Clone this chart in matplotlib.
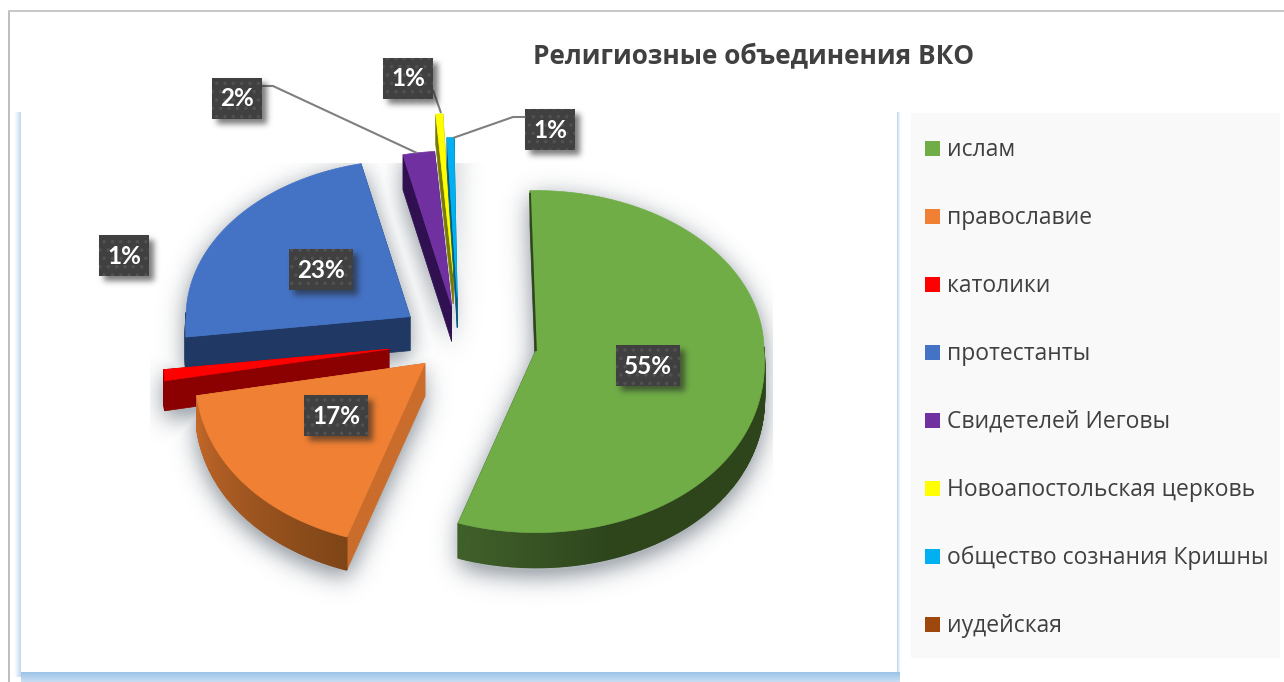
import numpy as np
import matplotlib.pyplot as plt
from matplotlib.colors import to_rgb
from matplotlib.patches import Polygon, Rectangle
from matplotlib.path import Path

plt.switch_backend('agg')
plt.rcParams["hatch.linewidth"] = 1.3

WIDTH, HEIGHT = 1284, 682

TITLE = "Религиозные объединения ВКО"
CATEGORIES = ["ислам", "православие", "католики", "протестанты", "Свидетелей Иеговы",
              "Новоапостольская церковь", "общество сознания Кришны", "иудейская"]
VALUES = [55.6, 17.0, 1.0, 23.3, 2.3, 0.5, 0.5, 0.0]
LABELS = ["55%", "17%", "1%", "23%", "2%", "1%", "1%", ""]

COLORS = ["#70AD47", "#F08033", "#FF0000", "#4472C4", "#7030A0", "#FFFF00", "#00B0F0", "#9E480E"]
SIDE_COLORS = ["#2E451C", "#C96C2C", "#8B0000", "#203864", "#301050", "#7A7A00", "#005A7C", "#5A2808"]
ARC_GRADIENT = {0: ("#2E451C", "#40602A"), 1: ("#7E4517", "#C4682A")}

# explosion, radius and height of each slice in pixels, and top left of each label box
EXPLODE = [77, 43, 70, 60, 50, 96, 62, 0]
RADII = [228, 229, 225, 224, 222, 229, 229, 229]
DEPTHS = [35, 33, 30, 34, 35, 30, 30, 30]
LABEL_BOX = [(616, 345), (304, 395), (99, 235), (289, 249), (212, 78), (383, 58), (525, 109), None]
LEADERS = {
    4: [(262, 86), (273, 86), (417, 153)],
    5: [(433, 90), (441, 113)],
    6: [(525, 117), (513, 117), (453, 138)],
}

CENTER = (459, 341)
START_ANGLE = -1.5
DRAW_ORDER = [4, 5, 6, 3, 2, 1, 0]

TEXT_COLOR = "#404040"
FONT = "Open Sans"


def project(angle_deg, dist):
    # clockwise from the top, front of the pie is a bit bigger than the back
    a = np.radians(angle_deg)
    sin_a, cos_a = np.sin(a), np.cos(a)
    front = np.maximum(0, -cos_a)
    x_scale = 1 + 0.07 * front
    y_scale = np.where(cos_a < 0, 0.80, 0.70)
    return np.column_stack([dist * sin_a * x_scale, -dist * cos_a * y_scale])


def slice_shapes(i, a0, a1):
    mid = (a0 + a1) / 2
    apex = np.array(CENTER) + project(mid, EXPLODE[i])[0]
    angles = np.linspace(a0, a1, max(3, int((a1 - a0) * 2)))
    arc = apex + project(angles, RADII[i])
    return apex, angles, arc


def blur(mask, sigma):
    ky = np.exp(-(np.fft.fftfreq(mask.shape[0]) * 2 * np.pi * sigma) ** 2 / 2)
    kx = np.exp(-(np.fft.fftfreq(mask.shape[1]) * 2 * np.pi * sigma) ** 2 / 2)
    return np.real(np.fft.ifft2(np.fft.fft2(mask) * np.outer(ky, kx)))


def poly_mask(pts, grid):
    return Path(pts).contains_points(grid).reshape(HEIGHT, WIDTH)


def show_shadow(ax, mask, color, strength, zorder):
    rgba = np.zeros((HEIGHT, WIDTH, 4))
    rgba[..., :3] = to_rgb(color)
    rgba[..., 3] = np.clip(mask, 0, 1) * strength
    ax.imshow(rgba, extent=(0, WIDTH, HEIGHT, 0), zorder=zorder, aspect="auto", interpolation="bilinear")


def lerp(c1, c2, t):
    return tuple(np.array(to_rgb(c1)) * (1 - t) + np.array(to_rgb(c2)) * t)


fig = plt.figure(figsize=(WIDTH / 100, HEIGHT / 100), dpi=100)
ax = fig.add_axes([0, 0, 1, 1])

# frame and panels
ax.add_patch(Rectangle((8, 10), 2, HEIGHT, color="#BFBFBF", lw=0, zorder=0))
ax.add_patch(Rectangle((8, 10), WIDTH, 1.5, color="#C8C8C8", lw=0, zorder=0))
for k in range(7):
    ax.add_patch(Rectangle((14 + k, 112), 1, 565, color=lerp("#FFFFFF", "#C4DAF1", k / 6), lw=0, zorder=0))
for k in range(4):
    ax.add_patch(Rectangle((897 + k, 112), 1, 565, color=lerp("#C4DAF1", "#FFFFFF", k / 3), lw=0, zorder=0))
for k in range(10):
    ax.add_patch(Rectangle((21, 672 + k), 879, 1, color=lerp("#9DC3E6", "#C6DCF2", k / 9), lw=0, zorder=0))
ax.add_patch(Rectangle((911, 113), 369, 545, color="#F9F9F9", lw=0, zorder=0))

yy, xx = np.mgrid[0:HEIGHT, 0:WIDTH]
grid = np.column_stack([xx.ravel() + 0.5, yy.ravel() + 0.5])

# values are read in percent, one percent is 3.6 degrees
edges = START_ANGLE + np.concatenate([[0], np.cumsum(VALUES)]) * 3.6
shadow = np.zeros((HEIGHT, WIDTH))

for i in DRAW_ORDER:
    a0, a1 = edges[i], edges[i + 1]
    apex, angles, arc = slice_shapes(i, a0, a1)
    down = np.array([0, DEPTHS[i]])
    top = np.vstack([apex, arc])

    # soft shadow of the whole solid
    m = poly_mask(top + down + [0, 8], grid) | poly_mask(top + [0, 6], grid)
    for s in (0.25, 0.5, 0.75):
        m |= poly_mask(top + down * s + [0, 7], grid)
    shadow = np.maximum(shadow, blur(m.astype(float), 12))

    # radial side faces
    for edge in (arc[-1], arc[0]):
        ax.add_patch(Polygon([apex, edge, edge + down, apex + down], closed=True,
                             fc=SIDE_COLORS[i], ec=SIDE_COLORS[i], lw=0.5, zorder=3))
    # outer wall, front part only
    front = np.cos(np.radians(angles)) < 0.02
    n_seg = len(angles) - 1
    for k in range(n_seg):
        if not (front[k] or front[k + 1]):
            continue
        if i == 0:
            t = k / max(1, n_seg - 1)
            col = lerp(*ARC_GRADIENT[0], max(0, (t - 0.82) / 0.18))
        elif i == 1:
            col = lerp(*ARC_GRADIENT[1], k / max(1, n_seg - 1))
        else:
            col = SIDE_COLORS[i]
        ax.add_patch(Polygon([arc[k], arc[k + 1], arc[k + 1] + down, arc[k] + down], closed=True,
                             fc=col, ec=col, lw=1.0, zorder=3))
    ax.add_patch(Polygon(top, closed=True, fc=COLORS[i], ec=COLORS[i], lw=0.5, zorder=3))

# thin dark edge along the back of the big slice
apex, angles, arc = slice_shapes(0, edges[0], edges[1])
ax.plot([arc[0][0], apex[0]], [arc[0][1] + 3, apex[1]], color=SIDE_COLORS[0], lw=1.3, zorder=3.5)

# the soft shadow is cut off by a box in the original
panel = np.zeros((HEIGHT, WIDTH), dtype=bool)
panel[163:672, 150:773] = True
show_shadow(ax, shadow * 1.6 * panel, "#8E969E", 0.7, 1)

# data labels
label_shadow = np.zeros((HEIGHT, WIDTH))
for i, box in enumerate(LABEL_BOX):
    if box is None:
        continue
    w = 50 if len(LABELS[i]) == 2 else 64
    h = 41
    label_shadow[box[1] + 5:box[1] + h + 5, box[0] + 5:box[0] + w + 5] = 1
    ax.add_patch(Rectangle(box, w, h, fc="#404040", ec="none", zorder=6))
    ax.add_patch(Rectangle(box, w, h, fc="none", ec="#515151", hatch="..", lw=0, zorder=6.1))
    ax.text(box[0] + w / 2, box[1] + h / 2 + 0.5, LABELS[i], color="white", fontsize=17.5,
            fontweight="bold", family=["Lato", FONT], ha="center", va="center", zorder=7)
show_shadow(ax, blur(label_shadow, 3), "#222222", 0.6, 5)

for i, pts in LEADERS.items():
    xs, ys = zip(*pts)
    ax.plot(xs, ys, color="#7F7F7F", lw=1.5, zorder=4, solid_capstyle="butt")

# legend
for i, name in enumerate(CATEGORIES):
    y = 148 + 68 * i
    ax.add_patch(Rectangle((925, y - 7.5), 15, 15, color=COLORS[i], lw=0, zorder=4))
    ax.text(947, y + 2, name, color=TEXT_COLOR, fontsize=16.5, family=FONT, va="center", ha="left", zorder=4)

ax.text(754, 55.5, TITLE, color=TEXT_COLOR, fontsize=18.9, fontweight="bold", family=FONT,
        ha="center", va="center", zorder=4)

ax.set_xlim(0, WIDTH)
ax.set_ylim(HEIGHT, 0)
ax.axis("off")

fig.savefig("out.png", dpi=100)
